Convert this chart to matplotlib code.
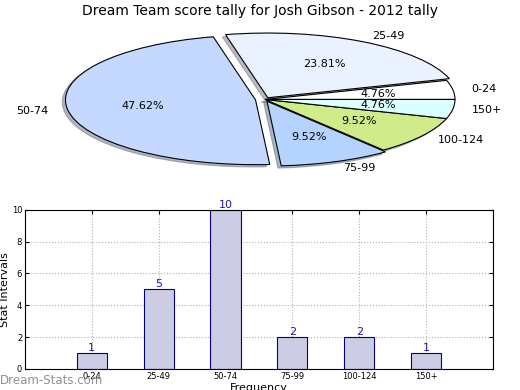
import matplotlib
matplotlib.use('Agg')
import matplotlib.pyplot as plt

categories = ['0-24', '25-49', '50-74', '75-99', '100-124', '150+']
counts = [1, 5, 10, 2, 2, 1]
pie_colors = ['#FFFFFF', '#EAF2FF', '#C5D8FF', '#B4D4FF', '#D0EB8A', '#DCFFFF']
explode = [0.0, 0.03, 0.05, 0.03, 0.0, 0.0]

fig = plt.figure(figsize=(5.2, 3.9), dpi=100)

# Pie
axp = fig.add_axes([0.144, 0.579, 0.731, 0.332])
axp.pie(counts, labels=categories, colors=pie_colors, explode=explode,
        autopct='%1.2f%%', shadow={'ox': -0.012, 'oy': -0.025, 'shade': 0.5},
        startangle=0,
        wedgeprops=dict(edgecolor='black', linewidth=0.8),
        textprops=dict(fontsize=8))
axp.set_aspect('auto')
axp.set_xlim(-1, 1)
axp.set_ylim(-1, 1)
axp.set_axis_off()
fig.text(0.5, 0.99, 'Dream Team score tally for Josh Gibson - 2012 tally',
         ha='center', va='top', fontsize=10)

# Bars
axb = fig.add_axes([0.048, 0.054, 0.9, 0.408])
x = list(range(1, len(categories) + 1))
axb.bar(x, counts, width=0.45, color='#CCCCE5', edgecolor='navy', linewidth=0.8, zorder=2)
for xi, c in zip(x, counts):
    axb.text(xi, c, str(c), ha='center', va='bottom', fontsize=8, color='#1a1a9a', zorder=3)
axb.set_xlim(0, 7)
axb.set_ylim(0, 10)
axb.set_xticks(x)
axb.set_xticklabels(categories)
axb.set_yticks([0, 2, 4, 6, 8, 10])
axb.tick_params(labelsize=6, direction='in', right=True, top=True, length=3, pad=2)
axb.grid(True, linestyle=':', color='#b0b0b0', linewidth=0.8, zorder=0)
axb.set_axisbelow(True)
axb.set_ylabel('Stat Intervals', fontsize=8)
axb.yaxis.set_label_coords(-0.031, 0.5)
axb.set_xlabel('Frequency', fontsize=8, labelpad=2)

fig.text(0.0, 0.008, 'Dream-Stats.com', fontsize=8.5,
         color='#909090', ha='left', va='bottom')

fig.savefig('out.png', dpi=100)
